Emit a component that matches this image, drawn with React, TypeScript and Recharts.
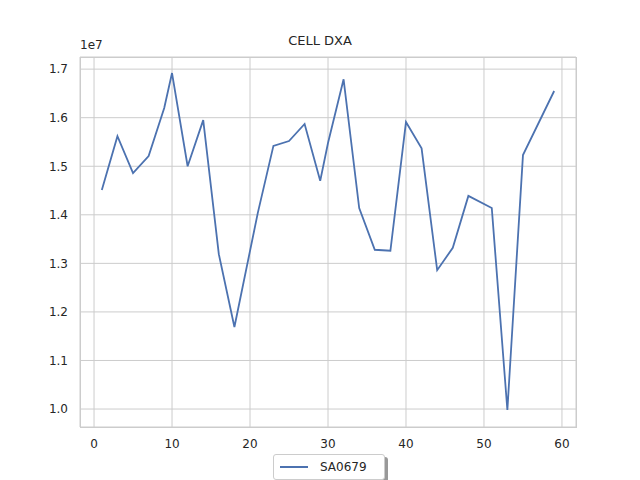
import React from "react";
import { LineChart, Line, XAxis, YAxis, CartesianGrid } from "recharts";

const xs = [1, 3, 5, 7, 9, 10, 12, 14, 16, 18, 21, 23, 25, 27, 29, 30, 32, 34, 36, 38, 40, 42, 44, 46, 48, 51, 53, 55, 59];
const sa0679 = [1.451, 1.562, 1.486, 1.521, 1.62, 1.692, 1.5, 1.595, 1.319, 1.169, 1.404, 1.542, 1.552, 1.587, 1.47, 1.548, 1.679, 1.414, 1.328, 1.326, 1.591, 1.537, 1.286, 1.332, 1.439, 1.414, 0.998, 1.523, 1.655];
const xTicks = [0, 10, 20, 30, 40, 50, 60];
const yTicks = [1.0, 1.1, 1.2, 1.3, 1.4, 1.5, 1.6, 1.7];

const data = xs.map((x, i) => ({ x, v: sa0679[i] }));
const font = "DejaVu Sans, sans-serif";
const tick = { fontSize: 12, fill: "#262626", fontFamily: font };

export default function App() {
  return (
    <div style={{ position: "absolute", left: 0, top: 0, width: 640, height: 480, background: "#fff", fontFamily: font }}>
      <div style={{ position: "absolute", top: 33, width: 640, textAlign: "center", fontSize: 13, color: "#262626" }}>CELL DXA</div>
      <div style={{ position: "absolute", top: 38, left: 80, fontSize: 12, color: "#262626" }}>1e7</div>
      <LineChart width={640} height={480} data={data} margin={{ top: 57, right: 64, left: 0, bottom: 0 }}>
        <CartesianGrid stroke="#cccccc" />
        <XAxis dataKey="x" type="number" domain={[-1.8, 61.8]} ticks={xTicks} height={53} tick={tick} tickLine={false} axisLine={false} tickMargin={6} />
        <YAxis type="number" domain={[0.963, 1.725]} ticks={yTicks} width={80} tick={tick} tickLine={false} axisLine={false} tickFormatter={(v: number) => v.toFixed(1)} tickMargin={6} />
        <Line dataKey="v" stroke="#4c72b0" strokeWidth={1.8} dot={false} isAnimationActive={false} />
      </LineChart>
      <div style={{ position: "absolute", left: 80, top: 57, width: 495, height: 369, border: "1px solid #cccccc", pointerEvents: "none" }} />
      <div style={{ position: "absolute", left: 273, top: 454, width: 110, height: 24, border: "1px solid #cccccc", borderRadius: 3, background: "#fff", boxShadow: "3px 3px 0 #999", display: "flex", alignItems: "center", fontSize: 12, color: "#262626" }}>
        <span style={{ display: "inline-block", width: 28, height: 2, background: "#4c72b0", margin: "0 12px 0 6px" }} />
        SA0679
      </div>
    </div>
  );
}
